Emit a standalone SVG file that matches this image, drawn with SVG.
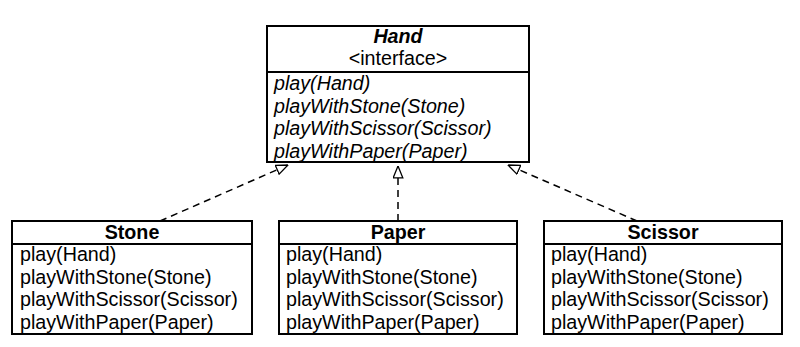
<svg xmlns="http://www.w3.org/2000/svg" width="800" height="347" viewBox="0 0 800 347">
  <defs>
    <style>
      .box { fill: #ffffff; stroke: #000000; stroke-width: 2; }
      .sep { stroke: #000000; stroke-width: 2; }
      .txt { font-family: "Liberation Sans", Arial, sans-serif; font-size: 19.7px; fill: #000000; }
      .title { font-weight: bold; text-anchor: middle; }
      .ital { font-style: italic; }
      .dash { fill: none; stroke: #000000; stroke-width: 1.5; stroke-dasharray: 7 5; }
    </style>
    <!-- open triangle head for interface realization -->
    <marker id="realize" viewBox="0 0 13 11" refX="12.5" refY="5.5" markerWidth="13" markerHeight="11" markerUnits="userSpaceOnUse" orient="auto">
      <path d="M0.7,0.7 L12.5,5.5 L0.7,10.3 Z" fill="#ffffff" stroke="#000000" stroke-width="1.3"/>
    </marker>
  </defs>

  <rect width="800" height="347" fill="#ffffff"/>

  <!-- connectors -->
  <g id="connectors">
    <line class="dash" x1="160" y1="221" x2="288" y2="165" marker-end="url(#realize)"/>
    <line class="dash" x1="398" y1="221" x2="398" y2="166" marker-end="url(#realize)"/>
    <line class="dash" x1="637" y1="221" x2="508" y2="165" marker-end="url(#realize)"/>
  </g>

  <!-- interface Hand -->
  <g id="hand">
    <rect class="box" x="267" y="26" width="262" height="136"/>
    <line class="sep" x1="267" y1="72" x2="529" y2="72"/>
    <text class="txt title ital" x="398" y="43">Hand</text>
    <text class="txt" x="398" y="65" text-anchor="middle">&lt;interface&gt;</text>
    <text class="txt ital" x="274" y="90">play(Hand)</text>
    <text class="txt ital" x="274" y="112.5">playWithStone(Stone)</text>
    <text class="txt ital" x="274" y="135">playWithScissor(Scissor)</text>
    <text class="txt ital" x="274" y="157.5">playWithPaper(Paper)</text>
  </g>

  <!-- class Stone -->
  <g id="stone">
    <rect class="box" x="12" y="221" width="240" height="113"/>
    <line class="sep" x1="12" y1="244" x2="252" y2="244"/>
    <text class="txt title" x="132" y="239">Stone</text>
    <text class="txt" x="20" y="261">play(Hand)</text>
    <text class="txt" x="20" y="283.5">playWithStone(Stone)</text>
    <text class="txt" x="20" y="306">playWithScissor(Scissor)</text>
    <text class="txt" x="20" y="328.5">playWithPaper(Paper)</text>
  </g>

  <!-- class Paper -->
  <g id="paper">
    <rect class="box" x="279" y="221" width="238" height="113"/>
    <line class="sep" x1="279" y1="244" x2="517" y2="244"/>
    <text class="txt title" x="398" y="239">Paper</text>
    <text class="txt" x="286" y="261">play(Hand)</text>
    <text class="txt" x="286" y="283.5">playWithStone(Stone)</text>
    <text class="txt" x="286" y="306">playWithScissor(Scissor)</text>
    <text class="txt" x="286" y="328.5">playWithPaper(Paper)</text>
  </g>

  <!-- class Scissor -->
  <g id="scissor">
    <rect class="box" x="544" y="221" width="238" height="113"/>
    <line class="sep" x1="544" y1="244" x2="782" y2="244"/>
    <text class="txt title" x="663" y="239">Scissor</text>
    <text class="txt" x="551" y="261">play(Hand)</text>
    <text class="txt" x="551" y="283.5">playWithStone(Stone)</text>
    <text class="txt" x="551" y="306">playWithScissor(Scissor)</text>
    <text class="txt" x="551" y="328.5">playWithPaper(Paper)</text>
  </g>
</svg>
